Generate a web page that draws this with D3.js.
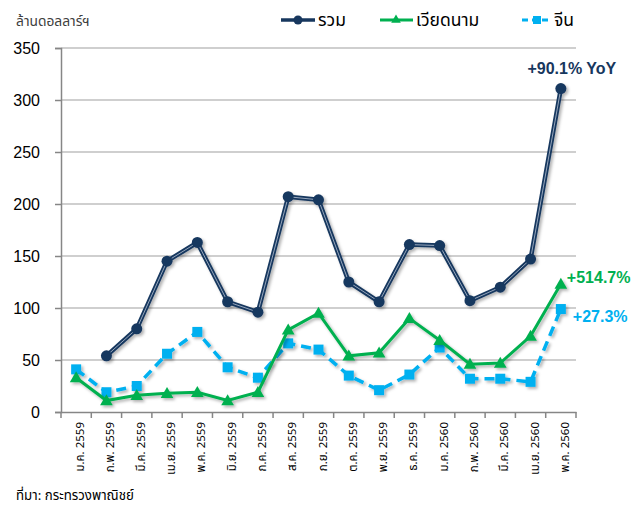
<!DOCTYPE html>
<html>
<head>
<meta charset="utf-8">
<script src="https://cdn.jsdelivr.net/npm/d3@7"></script>
<style>
  body { margin: 0; background: #fff; }
  svg { display: block; font-family: Arial, "Liberation Sans", sans-serif; }
  .thai { font-family: Tahoma, "Noto Sans Thai", "Noto Sans", sans-serif; }
</style>
</head>
<body>
<div id="chart"></div>
<script>
// data
var months = ["ม.ค. 2559", "ก.พ. 2559", "มี.ค. 2559", "เม.ย. 2559", "พ.ค. 2559", "มิ.ย. 2559",
    "ก.ค. 2559", "ส.ค. 2559", "ก.ย. 2559", "ต.ค. 2559", "พ.ย. 2559", "ธ.ค. 2559",
    "ม.ค. 2560", "ก.พ. 2560", "มี.ค. 2560", "เม.ย. 2560", "พ.ค. 2560"];
var total   = [null, 54, 80, 145, 163, 106, 96, 207, 204, 125, 106, 161, 160, 107, 120, 147, 311];
var vietnam = [33, 11, 16, 18, 19, 11, 19, 79, 95, 54, 57, 90, 69, 46, 47, 73, 123];
var china   = [41, 19, 25, 56, 77, 43, 33, 66, 60, 35, 21, 36, 62, 32, 32, 29, 99];
var yTicks  = [0, 50, 100, 150, 200, 250, 300, 350];
var seriesNames = ["รวม", "เวียดนาม", "จีน"];
var endLabels = ["+90.1% YoY", "+514.7%", "+27.3%"];

var width = 637, height = 510;
var navy = "#17375e", green = "#00b050", sky = "#00b0f0";

var svg = d3.select("#chart").append("svg")
    .attr("width", width)
    .attr("height", height);

var defs = svg.append("defs");
var f = defs.append("filter").attr("id", "shadow")
    .attr("x", "-20%").attr("y", "-20%").attr("width", "140%").attr("height", "140%");
f.append("feDropShadow")
    .attr("dx", 2).attr("dy", 2).attr("stdDeviation", 1.5)
    .attr("flood-color", "#000").attr("flood-opacity", 0.3);

var x = d3.scaleBand().domain(months).range([61, 576]);
var y = d3.scaleLinear().domain([0, 350]).range([412, 48]);
var cx = function (i) { return x(months[i]) + x.bandwidth() / 2; };

// gridlines
svg.append("g").selectAll("line")
    .data(yTicks.filter(function (d) { return d > 0; }))
    .join("line")
    .attr("x1", 61).attr("x2", 576)
    .attr("y1", function (d) { return y(d); })
    .attr("y2", function (d) { return y(d); })
    .attr("stroke", "#bfbfbf")
    .attr("stroke-width", 1.5);

// y axis
var yAxis = svg.append("g")
    .attr("transform", "translate(61,0)")
    .call(d3.axisLeft(y).tickValues(yTicks).tickSize(6).tickPadding(15));
yAxis.select(".domain").attr("stroke", "#868686").attr("stroke-width", 1.5);
yAxis.selectAll(".tick line").attr("stroke", "#868686").attr("stroke-width", 1.5);
yAxis.selectAll("text")
    .attr("font-size", 16)
    .attr("font-family", "Arial, 'Liberation Sans', sans-serif")
    .attr("fill", "#000");

// x axis
var xAxis = svg.append("g")
    .attr("transform", "translate(0,412)")
    .call(d3.axisBottom(x).tickSize(0).tickFormat(""));
xAxis.select(".domain").attr("stroke", "#868686").attr("stroke-width", 1.5);

svg.append("g").selectAll("line")
    .data(d3.range(months.length + 1))
    .join("line")
    .attr("x1", function (i) { return i < months.length ? x(months[i]) : x.range()[1]; })
    .attr("x2", function (i) { return i < months.length ? x(months[i]) : x.range()[1]; })
    .attr("y1", 412).attr("y2", 418)
    .attr("stroke", "#868686")
    .attr("stroke-width", 1.5);

svg.append("g").selectAll("text")
    .data(months)
    .join("text")
    .attr("class", "thai")
    .attr("transform", function (d, i) {
        return "translate(" + (cx(i) + 8) + ",422) rotate(-90)";
    })
    .attr("text-anchor", "end")
    .attr("font-size", 11.5)
    .attr("fill", "#000")
    .text(function (d) { return d; });

// lines
var line = function (vals) {
    return d3.line()
        .defined(function (d) { return d != null; })
        .x(function (d, i) { return cx(i); })
        .y(function (d) { return y(d); })(vals);
};

var gChina = svg.append("g").attr("filter", "url(#shadow)");
gChina.append("path")
    .attr("d", line(china))
    .attr("fill", "none")
    .attr("stroke", sky)
    .attr("stroke-width", 3.5)
    .attr("stroke-dasharray", "10,6");
gChina.selectAll("rect")
    .data(china)
    .join("rect")
    .attr("x", function (d, i) { return cx(i) - 5; })
    .attr("y", function (d) { return y(d) - 5; })
    .attr("width", 10).attr("height", 10)
    .attr("fill", sky);

var gViet = svg.append("g").attr("filter", "url(#shadow)");
gViet.append("path")
    .attr("d", line(vietnam))
    .attr("fill", "none")
    .attr("stroke", green)
    .attr("stroke-width", 3);
gViet.selectAll("path.mk")
    .data(vietnam)
    .join("path")
    .attr("class", "mk")
    .attr("d", d3.symbol().type(d3.symbolTriangle).size(70))
    .attr("transform", function (d, i) { return "translate(" + cx(i) + "," + (y(d) + 1) + ")"; })
    .attr("fill", green);

var gTotal = svg.append("g").attr("filter", "url(#shadow)");
gTotal.append("path")
    .attr("d", line(total))
    .attr("fill", "none")
    .attr("stroke", navy)
    .attr("stroke-width", 4.5)
    .attr("stroke-linejoin", "round");
gTotal.append("path")
    .attr("d", line(total))
    .attr("fill", "none")
    .attr("stroke", "#b8c4d6")
    .attr("stroke-width", 0.8);
gTotal.selectAll("circle")
    .data(total.map(function (d, i) { return { v: d, i: i }; }).filter(function (d) { return d.v != null; }))
    .join("circle")
    .attr("cx", function (d) { return cx(d.i); })
    .attr("cy", function (d) { return y(d.v); })
    .attr("r", 5.5)
    .attr("fill", navy);

// end labels
var last = months.length - 1;
svg.append("text")
    .attr("x", cx(last) + 11)
    .attr("y", y(total[last]) - 15)
    .attr("text-anchor", "middle")
    .attr("font-size", 16).attr("font-weight", "bold")
    .attr("fill", navy)
    .text(endLabels[0]);
svg.append("text")
    .attr("x", cx(last) + 6)
    .attr("y", y(vietnam[last]) - 1)
    .attr("font-size", 16).attr("font-weight", "bold")
    .attr("fill", green)
    .text(endLabels[1]);
svg.append("text")
    .attr("x", cx(last) + 12)
    .attr("y", y(china[last]) + 13)
    .attr("font-size", 16).attr("font-weight", "bold")
    .attr("fill", sky)
    .text(endLabels[2]);

// legend
var legend = svg.append("g").attr("class", "thai");
var lx = [281, 380, 522];
var lw = [34, 33, 29];
var lcol = [navy, green, sky];

legend.selectAll("line")
    .data(seriesNames)
    .join("line")
    .attr("x1", function (d, i) { return lx[i]; })
    .attr("x2", function (d, i) { return lx[i] + lw[i]; })
    .attr("y1", 20).attr("y2", 20)
    .attr("stroke", function (d, i) { return lcol[i]; })
    .attr("stroke-width", function (d, i) { return i == 0 ? 3.5 : 3; })
    .attr("stroke-dasharray", function (d, i) { return i == 2 ? "6,4" : null; });
legend.append("circle").attr("cx", lx[0] + 17).attr("cy", 20).attr("r", 4.5).attr("fill", navy);
legend.append("path")
    .attr("d", d3.symbol().type(d3.symbolTriangle).size(40))
    .attr("transform", "translate(" + (lx[1] + 16) + ",20)")
    .attr("fill", green);
legend.append("rect").attr("x", lx[2] + 11).attr("y", 16).attr("width", 8).attr("height", 8).attr("fill", sky);

legend.selectAll("text")
    .data(seriesNames)
    .join("text")
    .attr("x", function (d, i) { return lx[i] + lw[i] + 3; })
    .attr("y", 26)
    .attr("font-size", 17.5)
    .attr("fill", "#000")
    .text(function (d) { return d; });

// unit label and source
svg.append("text")
    .attr("class", "thai")
    .attr("x", 16).attr("y", 26)
    .attr("font-size", 13.8)
    .attr("fill", "#404040")
    .text("ล้านดอลลาร์ฯ");
svg.append("text")
    .attr("class", "thai")
    .attr("x", 16).attr("y", 500)
    .attr("font-size", 13.3)
    .attr("fill", "#000")
    .text("ที่มา: กระทรวงพาณิชย์");
</script>
</body>
</html>
